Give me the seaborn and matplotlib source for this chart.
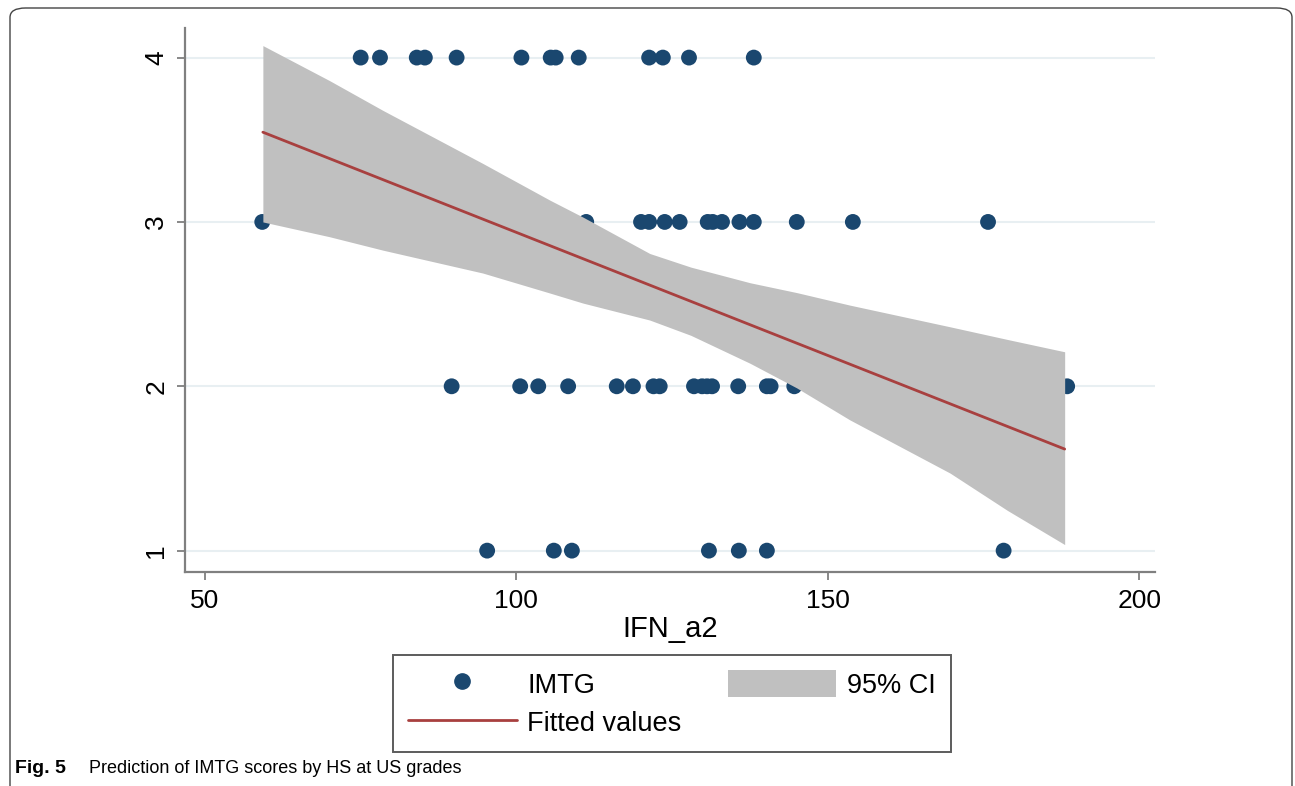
import numpy as np
import pandas as pd
import seaborn as sns
import matplotlib.pyplot as plt
from matplotlib.lines import Line2D
from matplotlib.patches import Patch, FancyBboxPatch

# ---- data ----
imtg4_x = [75.0, 78.1, 84.0, 85.3, 90.4, 100.8, 105.5, 106.3, 110.0, 121.3, 123.5, 127.7, 138.1]
imtg3_x = [59.2, 111.2, 120.0, 121.3, 123.8, 126.2, 130.7, 131.5, 133.0, 135.8, 138.1, 145.0, 154.0, 175.7]
imtg2_x = [89.6, 100.6, 103.5, 108.3, 116.1, 118.7, 122.0, 123.0, 128.5, 129.8, 130.6, 131.4,
           135.6, 140.2, 140.8, 144.6, 188.4]
imtg1_x = [95.3, 106.0, 108.9, 130.9, 135.7, 140.2, 178.2]

fit_x = [59.3, 188.0]
fit_y = [3.546, 1.618]

ci_x = [59.3, 70.0, 78.6, 94.6, 105.4, 110.7, 121.4, 128.0, 137.5, 145.0, 153.5, 169.6, 178.8, 188.0]
ci_high = [4.073, 3.860, 3.678, 3.356, 3.132, 3.029, 2.808, 2.725, 2.630, 2.570, 2.494, 2.362, 2.285, 2.210]
ci_low = [3.000, 2.910, 2.828, 2.689, 2.567, 2.506, 2.403, 2.310, 2.140, 1.990, 1.796, 1.472, 1.245, 1.037]

x_ticks = [50, 100, 150, 200]
y_ticks = [1, 2, 3, 4]

df = pd.DataFrame({
    "IFN_a2": imtg4_x + imtg3_x + imtg2_x + imtg1_x,
    "IMTG": [4] * len(imtg4_x) + [3] * len(imtg3_x) + [2] * len(imtg2_x) + [1] * len(imtg1_x),
})

navy = "#1a476f"
maroon = "#a8403f"
band = "#c0c0c0"

sns.set_theme(style="white")
plt.rcParams["font.family"] = ["Liberation Sans", "DejaVu Sans"]
plt.rcParams["text.color"] = "black"
plt.rcParams["axes.labelcolor"] = "black"
plt.rcParams["xtick.color"] = "black"
plt.rcParams["ytick.color"] = "black"

fig = plt.figure(figsize=(12.95, 7.86), dpi=100)
ax = fig.add_axes([185 / 1295, 1 - 572 / 786, (1155 - 185) / 1295, (572 - 28) / 786])

sns.scatterplot(data=df, x="IFN_a2", y="IMTG", color=navy, s=130, edgecolor="none",
                linewidth=0, ax=ax, zorder=2, legend=False)
ax.fill_between(ci_x, ci_low, ci_high, color=band, lw=0, zorder=3)
sns.lineplot(x=fit_x, y=fit_y, color=maroon, lw=2, ax=ax, zorder=4)

ax.set_xlim(46.8, 202.5)
ax.set_ylim(0.87, 4.18)
ax.set_xticks(x_ticks)
ax.set_yticks(y_ticks)
ax.set_xticklabels([str(t) for t in x_ticks], fontsize=19, color="black")
ax.set_yticklabels([str(t) for t in y_ticks], fontsize=19, rotation=90, va="center", color="black")
ax.tick_params(axis="both", which="both", direction="out", length=6, width=1.3,
               color="#7f7f7f", labelcolor="black", left=True, bottom=True, pad=6)
ax.set_xlabel("IFN_a2", fontsize=21, labelpad=2, color="black")
ax.set_ylabel("")
for s in ["top", "right"]:
    ax.spines[s].set_visible(False)
for s in ["left", "bottom"]:
    ax.spines[s].set_color("#808080")
    ax.spines[s].set_linewidth(1.6)
ax.yaxis.grid(True, color="#e8eff2", lw=1.5)
ax.xaxis.grid(False)
ax.set_axisbelow(True)

handles = [
    Line2D([], [], marker="o", ls="none", color=navy, markersize=11),
    Line2D([], [], color=maroon, lw=2),
    Patch(facecolor=band, edgecolor="none"),
]
labels = ["IMTG", "Fitted values", "95% CI"]
leg = fig.legend(handles, labels, loc="center", bbox_to_anchor=(672 / 1295, 1 - 703.5 / 786),
                 ncol=2, fontsize=19.5, frameon=True, fancybox=False, handlelength=4.0,
                 handleheight=1.15, handletextpad=0.4, columnspacing=1.7, borderpad=0.55,
                 labelspacing=0.35)
leg.get_frame().set_edgecolor("#333333")
leg.get_frame().set_linewidth(1.4)
for t in leg.get_texts():
    t.set_color("black")

# outer figure frame (open at the bottom)
frame = FancyBboxPatch((10 / 1295, -0.05), (1292 - 10) / 1295, 1.05 - 8 / 786,
                       boxstyle="round,pad=0,rounding_size=0.012", transform=fig.transFigure,
                       facecolor="none", edgecolor="#444444", lw=1.0, clip_on=False)
fig.patches.append(frame)

fig.text(15 / 1295, 1 - 773 / 786, "Fig. 5", fontsize=14, fontweight="bold",
         family=["Liberation Sans Narrow", "Liberation Sans", "DejaVu Sans"], va="baseline")
fig.text(89 / 1295, 1 - 773 / 786, "Prediction of IMTG scores by HS at US grades", fontsize=13,
         family=["Liberation Sans Narrow", "Liberation Sans", "DejaVu Sans"], va="baseline")

fig.savefig("out.png", dpi=100)
